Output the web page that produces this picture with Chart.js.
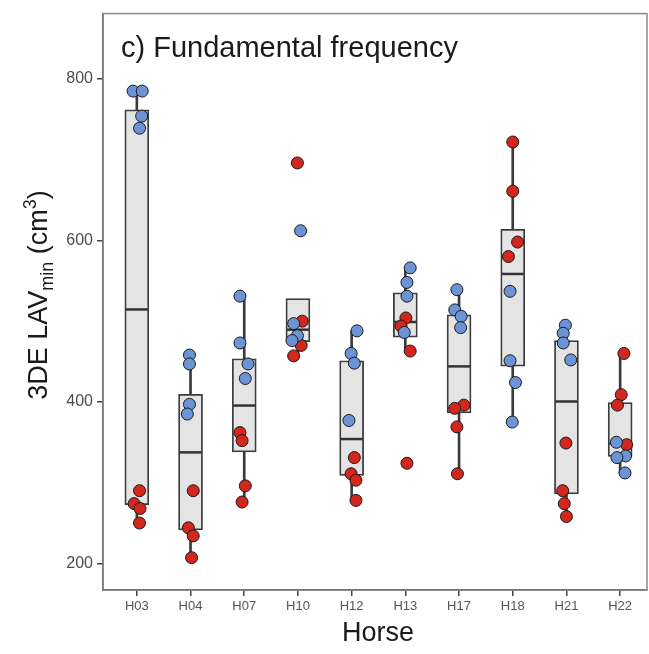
<!DOCTYPE html>
<html>
<head>
<meta charset="utf-8">
<script src="https://cdn.jsdelivr.net/npm/chart.js@4/dist/chart.umd.min.js"></script>
<style>
  body { margin: 0; background: #fff; }
  #wrap { width: 649px; height: 654px; }
</style>
</head>
<body>
<div id="wrap"><canvas id="grafico"></canvas></div>
<script>

// horses on the x axis
const horses = ["H03", "H04", "H07", "H10", "H12", "H13", "H17", "H18", "H21", "H22"];

// y axis ticks
const yTicks = [200, 400, 600, 800];

// blue points and their horizontal jitter
const blueValues = [
    [785, 785, 754, 739],
    [458, 447, 397, 385],
    [531, 473, 447, 429],
    [612, 497, 482, 476],
    [488, 460, 448, 377],
    [566, 548, 531, 486],
    [539, 514, 506, 492],
    [537, 451, 424, 375],
    [495, 485, 473, 452],
    [350, 333, 331, 312]
];
const blueJitter = [
    [-0.07, 0.10, 0.09, 0.05],
    [-0.02, -0.02, -0.02, -0.06],
    [-0.08, -0.08, 0.07, 0.02],
    [0.05, -0.08, -0.01, -0.11],
    [0.10, -0.01, 0.05, -0.05],
    [0.09, 0.03, 0.03, -0.02],
    [-0.04, -0.08, 0.04, 0.03],
    [-0.05, -0.05, 0.05, -0.01],
    [-0.02, -0.06, -0.06, 0.08],
    [-0.07, 0.10, -0.06, 0.09]
];

// red points
const redValues = [
    [290, 274, 268, 250],
    [290, 244, 234, 207],
    [362, 352, 296, 276],
    [696, 500, 470, 457],
    [331, 311, 303, 278],
    [504, 494, 463, 324],
    [396, 392, 369, 311],
    [722, 661, 598, 580],
    [349, 290, 274, 258],
    [460, 409, 396, 347]
];
const redJitter = [
    [0.05, -0.05, 0.06, 0.05],
    [0.05, -0.04, 0.05, 0.02],
    [-0.08, -0.04, 0.02, -0.04],
    [-0.01, 0.08, 0.06, -0.08],
    [0.05, -0.01, 0.08, 0.08],
    [0.01, -0.08, 0.09, 0.03],
    [0.09, -0.08, -0.04, -0.03],
    [0, 0, 0.09, -0.08],
    [-0.01, -0.07, -0.04, 0],
    [0.07, 0.02, -0.05, 0.12]
];

function quantile(sorted, p){
    const pos = (sorted.length - 1) * p;
    const lo = Math.floor(pos);
    const hi = Math.ceil(pos);
    return sorted[lo] + (sorted[hi] - sorted[lo]) * (pos - lo);
}

// boxplot stats like ggplot (type 7 quantiles, 1.5 IQR whiskers)
const stats = horses.map((h, i) => {
    const all = blueValues[i].concat(redValues[i]).sort((a, b) => a - b);
    const q1 = quantile(all, 0.25);
    const med = quantile(all, 0.5);
    const q3 = quantile(all, 0.75);
    const iqr = q3 - q1;
    const inside = all.filter(v => v >= q1 - 1.5 * iqr && v <= q3 + 1.5 * iqr);
    return { q1, med, q3, lo: inside[0], hi: inside[inside.length - 1] };
});

function puntos(values, jitter){
    const out = [];
    values.forEach((serie, i) => {
        serie.forEach((v, j) => {
            out.push({ x: i + jitter[i][j], y: v });
        });
    });
    return out;
}

const fuente = "'Liberation Sans', Arial, sans-serif";

const medianas = {
    id: "medianas",
    afterDatasetDraw(chart, args){
        if(chart.data.datasets[args.index].label !== "box") return;
        const ctx = chart.ctx;
        const y = chart.scales.y;
        ctx.save();
        ctx.strokeStyle = "#333";
        ctx.lineWidth = 2.5;
        args.meta.data.forEach((bar, i) => {
            const py = y.getPixelForValue(stats[i].med);
            ctx.beginPath();
            ctx.moveTo(bar.x - bar.width / 2 + 1, py);
            ctx.lineTo(bar.x + bar.width / 2 - 1, py);
            ctx.stroke();
        });
        ctx.restore();
    }
};

const textos = {
    id: "textos",
    beforeDatasetsDraw(chart){
        const a = chart.chartArea;
        const ctx = chart.ctx;
        ctx.save();
        ctx.strokeStyle = "#8a8a8a";
        ctx.lineWidth = 1.5;
        ctx.strokeRect(a.left, a.top, a.right - a.left, a.bottom - a.top);
        ctx.restore();
    },
    afterDraw(chart){
        const ctx = chart.ctx;
        ctx.save();
        ctx.fillStyle = "#1a1a1a";

        // panel title
        ctx.font = "29px " + fuente;
        ctx.textAlign = "left";
        ctx.textBaseline = "alphabetic";
        ctx.fillText("c) Fundamental frequency", 121, 57);

        // x title
        ctx.font = "27px " + fuente;
        ctx.textAlign = "center";
        ctx.textBaseline = "middle";
        ctx.fillText("Horse", 378, 634);

        // y title with subscript and superscript
        ctx.translate(38, 295);
        ctx.rotate(-Math.PI / 2);
        const partes = [
            { t: "3DE LAV", size: 27, dy: 0 },
            { t: "min", size: 18, dy: 6 },
            { t: " (cm", size: 27, dy: 0 },
            { t: "3", size: 18, dy: -11 },
            { t: ")", size: 27, dy: 0 }
        ];
        let total = 0;
        partes.forEach(p => {
            ctx.font = p.size + "px " + fuente;
            total += ctx.measureText(p.t).width;
        });
        let x = -total / 2;
        ctx.textAlign = "left";
        ctx.textBaseline = "alphabetic";
        partes.forEach(p => {
            ctx.font = p.size + "px " + fuente;
            ctx.fillText(p.t, x, 9 + p.dy);
            x += ctx.measureText(p.t).width;
        });
        ctx.restore();
    }
};

new Chart(
    document.getElementById("grafico"),
    {
        type: "bar",
        data: {
            datasets: [
                {
                    label: "whisker",
                    data: stats.map((s, i) => ({ x: i, y: [s.lo, s.hi] })),
                    backgroundColor: "#3a3a3a",
                    barThickness: 2,
                    grouped: false,
                    order: 3
                },
                {
                    label: "box",
                    data: stats.map((s, i) => ({ x: i, y: [s.q1, s.q3] })),
                    backgroundColor: "#e4e4e4",
                    borderColor: "#3d3d3d",
                    borderWidth: 1.8,
                    borderSkipped: false,
                    barThickness: 24,
                    grouped: false,
                    order: 2
                },
                {
                    type: "scatter",
                    label: "red",
                    data: puntos(redValues, redJitter),
                    backgroundColor: "#d3261c",
                    borderColor: "#1a1a1a",
                    borderWidth: 1,
                    pointRadius: 6,
                    order: 1
                },
                {
                    type: "scatter",
                    label: "blue",
                    data: puntos(blueValues, blueJitter),
                    backgroundColor: "#6b93d6",
                    borderColor: "#1a1a1a",
                    borderWidth: 1,
                    pointRadius: 6,
                    order: 0
                }
            ]
        },
        options: {
            responsive: true,
            maintainAspectRatio: false,
            animation: false,
            layout: { autoPadding: false, padding: { top: 12, right: 2, left: 0, bottom: 0 } },
            plugins: {
                legend: { display: false },
                tooltip: { enabled: false }
            },
            scales: {
                x: {
                    type: "linear",
                    offset: false,
                    min: -0.63,
                    max: 9.5,
                    afterBuildTicks: s => { s.ticks = horses.map((h, i) => ({ value: i })); },
                    afterFit: s => { s.height = 64; s.paddingLeft = 0; s.paddingRight = 0; },
                    ticks: {
                        autoSkip: false,
                        maxRotation: 0,
                        padding: 3,
                        color: "#555",
                        font: { family: fuente, size: 13 },
                        callback: v => horses[v]
                    },
                    grid: { offset: false, drawOnChartArea: false, drawTicks: true, tickLength: 6, color: "#444", lineWidth: 1.5 },
                    border: { display: true, color: "#333", width: 1.5 }
                },
                y: {
                    min: 167,
                    max: 881,
                    afterBuildTicks: s => { s.ticks = yTicks.map(v => ({ value: v })); },
                    afterFit: s => { s.width = 103; },
                    ticks: {
                        padding: 4,
                        color: "#4d4d4d",
                        font: { family: fuente, size: 16 }
                    },
                    grid: { drawOnChartArea: false, drawTicks: true, tickLength: 6, color: "#444", lineWidth: 1.5 },
                    border: { display: true, color: "#333", width: 1.5 }
                }
            }
        },
        plugins: [medianas, textos]
    }
);

</script>
</body>
</html>
